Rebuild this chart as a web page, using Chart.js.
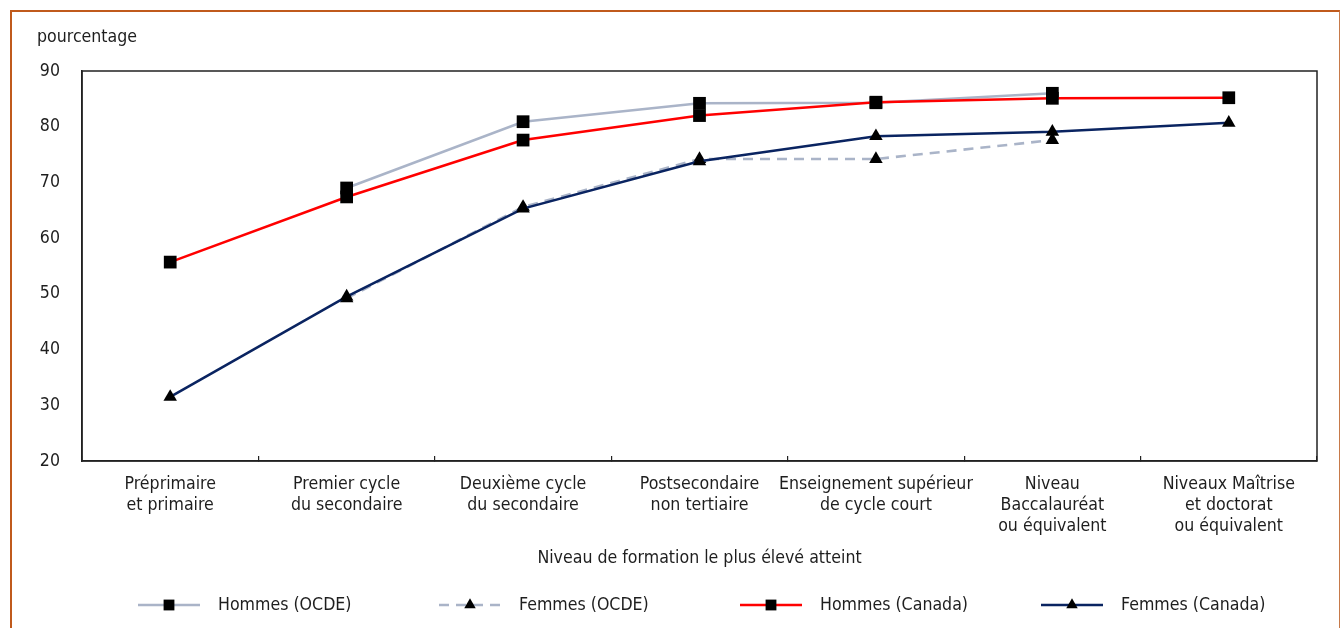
<!DOCTYPE html>
<html>
<head>
<meta charset="utf-8">
<script src="https://cdn.jsdelivr.net/npm/chart.js@4.4.1/dist/chart.umd.min.js"></script>
<style>
  html, body { margin: 0; padding: 0; background: #ffffff; }
  #wrap { position: relative; width: 1344px; height: 628px; overflow: hidden; }
  #frame { position: absolute; left: 10px; top: 10px; width: 1330px; height: 700px; box-sizing: border-box;
           border-top: 2px solid #c05a1c; border-left: 2px solid #c05a1c; border-right: 1px solid #c77a4a; pointer-events: none; }
  canvas { position: absolute; left: 0; top: 0; }
</style>
</head>
<body>
<div id="wrap">
  <canvas id="c" width="1344" height="628"></canvas>
  <div id="frame"></div>
</div>
<script>
// ---- data ----
const categories = [
  ['Préprimaire', 'et primaire'],
  ['Premier cycle', 'du secondaire'],
  ['Deuxième cycle', 'du secondaire'],
  ['Postsecondaire', 'non tertiaire'],
  ['Enseignement supérieur', 'de cycle court'],
  ['Niveau', 'Baccalauréat', 'ou équivalent'],
  ['Niveaux Maîtrise', 'et doctorat', 'ou équivalent']
];
const seriesNames = ['Hommes (OCDE)', 'Femmes (OCDE)', 'Hommes (Canada)', 'Femmes (Canada)'];
const hommesOCDE   = [null, 69.0, 80.9, 84.2, 84.3, 86.0, null];
const femmesOCDE   = [null, 49.2, 65.6, 74.2, 74.2, 77.6, null];
const hommesCanada = [55.7, 67.4, 77.6, 82.0, 84.4, 85.1, 85.2];
const femmesCanada = [31.5, 49.5, 65.3, 73.8, 78.3, 79.1, 80.7];
const yMin = 20, yMax = 90, yStep = 10;
const yAxisLabel = 'pourcentage';
const xAxisLabel = 'Niveau de formation le plus élevé atteint';

const FONT = "'DejaVu Sans Condensed', 'Liberation Sans Narrow', sans-serif";
const FS = 17.6;
const TEXT = '#1e1e1e';

// draws the box around the plot area
const plotFrame = {
  id: 'plotFrame',
  beforeDatasetsDraw(chart) {
    const {ctx, chartArea: a} = chart;
    ctx.save();
    ctx.strokeStyle = '#222';
    ctx.lineWidth = 1.5;
    ctx.strokeRect(a.left, a.top, a.right - a.left, a.bottom - a.top);
    ctx.restore();
  }
};

// legend with line sample + marker
const lineLegend = {
  id: 'lineLegend',
  afterDraw(chart) {
    const {ctx, chartArea: a} = chart;
    const y = a.bottom + 144;
    const start = a.left + 56;
    const step = 301;
    ctx.save();
    ctx.font = FS + 'px ' + FONT;
    ctx.textBaseline = 'middle';
    ctx.textAlign = 'left';
    chart.data.datasets.forEach((ds, i) => {
      const x0 = start + i * step;
      ctx.save();
      ctx.strokeStyle = ds.borderColor;
      ctx.lineWidth = ds.borderWidth;
      ctx.setLineDash(ds.borderDash || []);
      ctx.beginPath();
      ctx.moveTo(x0, y);
      ctx.lineTo(x0 + 62, y);
      ctx.stroke();
      ctx.restore();
      ctx.save();
      ctx.fillStyle = ds.pointBackgroundColor;
      ctx.strokeStyle = ds.pointBorderColor;
      Chart.helpers.drawPoint(ctx, {pointStyle: ds.pointStyle, radius: ds.pointRadius * 0.85, borderWidth: 0, rotation: 0}, x0 + 31, y);
      ctx.restore();
      ctx.fillStyle = TEXT;
      ctx.fillText(ds.label, x0 + 80, y);
    });
    ctx.restore();
  }
};

const mk = (label, data, color, style, dash, order) => ({
  label, data,
  borderColor: color,
  backgroundColor: color,
  borderWidth: 2.6,
  borderDash: dash,
  pointStyle: style,
  pointRadius: style === 'rect' ? 9 : 7.8,
  pointHoverRadius: style === 'rect' ? 9 : 7.8,
  pointBackgroundColor: '#000000',
  pointBorderColor: '#000000',
  pointBorderWidth: 0,
  spanGaps: false,
  tension: 0,
  order
});

new Chart(document.getElementById('c'), {
  type: 'line',
  data: {
    labels: categories,
    datasets: [
      mk(seriesNames[0], hommesOCDE, '#aab4c8', 'rect', [], 2),
      mk(seriesNames[1], femmesOCDE, '#aab4c8', 'triangle', [10, 7], 2),
      mk(seriesNames[2], hommesCanada, '#ff0000', 'rect', [], 1),
      mk(seriesNames[3], femmesCanada, '#0a2461', 'triangle', [], 1)
    ]
  },
  plugins: [plotFrame, lineLegend],
  options: {
    responsive: false,
    animation: false,
    layout: { padding: { left: 37, right: 27, top: 0, bottom: 59.44 } },
    plugins: {
      legend: { display: false },
      tooltip: { enabled: false },
      title: {
        display: true,
        text: yAxisLabel,
        align: 'start',
        color: TEXT,
        font: { family: FONT, size: FS, weight: 'normal', lineHeight: 1.0 },
        padding: { top: 28.2, bottom: 25.2 }
      }
    },
    scales: {
      x: {
        type: 'category',
        offset: true,
        grid: { display: true, drawOnChartArea: false, drawTicks: true, tickLength: -5, offset: true, color: '#222', lineWidth: 1.2 },
        border: { display: true, color: '#222', width: 1.5 },
        ticks: { autoSkip: false, maxRotation: 0, minRotation: 0, padding: 17.4, color: TEXT,
                 font: { family: FONT, size: FS, lineHeight: 1.2 } },
        title: { display: true, text: xAxisLabel, color: TEXT, padding: { top: 0, bottom: 0 },
                 font: { family: FONT, size: FS, lineHeight: 1.2 } },
        afterFit(scale) { scale.height = 107.56; }
      },
      y: {
        min: yMin, max: yMax,
        grid: { display: false, drawTicks: false },
        border: { display: true, color: '#222', width: 1.5 },
        ticks: { stepSize: yStep, padding: 22, color: TEXT, font: { family: FONT, size: FS, lineHeight: 1.0 } },
        afterFit(scale) { scale.width = 45; }
      }
    }
  }
});
</script>
</body>
</html>
